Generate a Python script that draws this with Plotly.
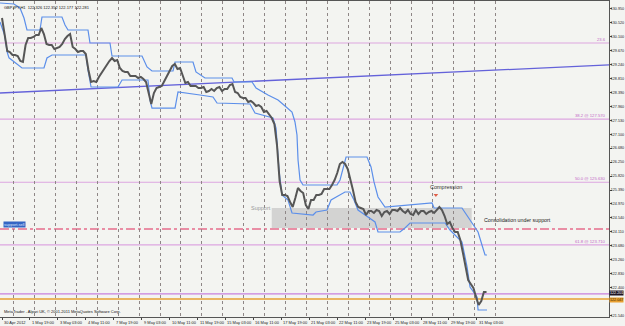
import plotly.graph_objects as go
import numpy as np

# ---------------- data ----------------
# H1 GBPJPY closes sampled every 3 bars starting 30 Apr 2012 11:00
price_close = [
    130.673, 130.213, 129.660, 129.630, 129.537, 129.537, 129.507, 129.353, 129.323, 129.844,
    130.059, 130.059, 130.090, 130.151, 130.151, 130.366, 130.182, 129.875, 129.844, 129.844,
    129.722, 129.752, 129.783, 129.875, 130.029, 130.121, 130.182, 129.783, 129.722, 129.630,
    129.660, 129.660, 129.568, 129.077, 128.709, 128.739, 128.709, 128.862, 128.985, 129.138,
    129.261, 129.353, 129.445, 129.353, 129.384, 129.138, 129.046, 129.016, 129.016, 128.893,
    128.893, 128.893, 128.831, 128.862, 128.801, 128.709, 128.371, 128.033, 128.371, 128.524,
    128.555, 128.586, 128.739, 128.893, 129.046, 129.200, 129.261, 129.108, 129.138, 128.893,
    128.678, 128.709, 128.586, 128.586, 128.586, 128.524, 128.524, 128.555, 128.402, 128.432,
    128.494, 128.432, 128.524, 128.555, 128.432, 128.494, 128.494, 128.616, 128.647, 128.402,
    128.371, 128.248, 128.217, 128.217, 128.095, 128.125, 128.064, 127.972, 128.002, 127.941,
    127.788, 127.818, 127.695, 127.603, 127.419, 126.774, 125.669, 125.239, 125.239, 125.209,
    125.025, 124.871, 125.147, 125.454, 125.362, 125.301, 124.932, 124.810, 125.086, 125.086,
    125.239, 125.239, 125.270, 125.424, 125.424, 125.424, 125.546, 125.700, 125.915, 126.191,
    126.253, 126.191, 126.038, 125.731, 125.393, 125.025, 124.871, 124.840, 124.810, 124.625,
    124.748, 124.748, 124.687, 124.779, 124.748, 124.595, 124.718, 124.748, 124.656, 124.779,
    124.779, 124.748, 124.840, 124.748, 124.687, 124.779, 124.656, 124.625, 124.779, 124.656,
    124.748, 124.748, 124.656, 124.718, 124.748, 124.687, 124.779, 124.871, 124.779, 124.595,
    124.349, 124.411, 124.226, 124.104, 124.104, 123.858, 123.459, 123.060, 122.630, 122.507,
    122.384, 122.108, 121.862, 121.985, 122.262, 122.262,
]
bars_per_sample = 3

# upper / lower channel (bar index, price)
upper_bar = [-2.3, 13.7, 20.6, 25.2, 28.6, 43.5, 45.8, 68.7, 72.2, 75.6, 98.5, 100.8, 123.7, 126.0,
             160.4, 166.1, 171.8, 195.9, 198.2, 218.8, 222.2, 229.1, 232.5, 263.5, 265.8, 286.4,
             291.0, 304.7, 316.2, 324.2, 332.2, 335.6, 337.9, 339.1, 341.4, 344.8, 383.7, 387.2,
             394.1, 418.1, 422.7, 426.1, 430.7, 438.7, 467.4, 492.6, 494.9, 526.9, 531.5, 538.4,
             545.3, 549.8, 553.3, 555.6]
upper_px = [131.134, 131.103, 130.980, 130.673, 130.305, 130.305, 130.704, 130.704, 130.459, 130.305,
            130.305, 129.906, 129.906, 129.507, 129.507, 129.169, 129.046, 129.046, 129.323, 129.323,
            129.016, 128.893, 128.831, 128.831, 128.709, 128.709, 128.524, 128.309, 128.156, 127.972,
            127.788, 127.481, 127.082, 126.314, 125.700, 125.546, 125.546, 125.700, 126.406, 126.406,
            126.099, 125.639, 125.178, 124.871, 124.932, 124.994, 124.840, 124.840, 124.656, 124.380,
            124.104, 123.705, 123.397, 123.397]
lower_bar = [-2.3, 3.0, 6.0, 8.0, 22.9, 48.1, 51.5, 57.3, 96.2, 98.5, 102.0, 132.9, 137.5, 167.2,
             169.5, 171.8, 198.2, 201.6, 226.8, 241.7, 246.3, 284.1, 289.8, 310.4, 313.9, 317.3,
             320.7, 327.6, 332.2, 356.3, 359.7, 372.3, 376.9, 392.9, 398.6, 403.2, 407.8, 417.0,
             427.3, 430.7, 455.9, 461.6, 467.4, 507.5, 513.2, 526.9, 532.7, 536.1, 544.1, 545.3, 555.6]
lower_px = [130.550, 130.150, 129.620, 129.450, 129.138, 129.138, 129.445, 129.537, 129.537, 129.077,
            128.555, 128.555, 128.770, 128.770, 128.156, 127.907, 127.907, 128.402, 128.310, 128.248,
            128.064, 128.033, 127.757, 127.603, 127.296, 126.007, 125.239, 125.086, 124.687, 124.625,
            124.718, 124.779, 125.086, 125.332, 125.332, 125.086, 124.779, 124.595, 124.411, 124.104,
            124.104, 124.226, 124.380, 124.380, 124.165, 123.797, 123.030, 122.416, 122.108, 121.709,
            121.709]

# trend line anchors (bar, price)
trend_bar = [0, 680]
trend_px = [128.374, 129.215]

# fibonacci levels
fib_levels = [129.906, 127.570, 125.630, 123.710]
fib_labels = ["23.6", "38.2 @ 127.570", "50.0 @ 125.630", "61.8 @ 123.710"]

sell_line = 124.196
violet_line = 122.201
orange_line = 122.047

support_low, support_high = 124.226, 124.840
support_start, support_end = 309, 538

# axes
x_label_bars = [0, 32, 64, 96, 128, 160, 192, 224, 256, 288, 320, 352, 384, 416, 448, 480, 512, 544]
x_labels = ["30 Apr 2012", "1 May 19:00", "3 May 03:00", "4 May 11:00", "7 May 19:00", "9 May 03:00",
            "10 May 11:00", "11 May 19:00", "15 May 03:00", "16 May 11:00", "17 May 19:00",
            "21 May 03:00", "22 May 11:00", "23 May 19:00", "25 May 03:00", "28 May 11:00",
            "29 May 19:00", "31 May 03:00"]
day_start_bars = [13 + 24 * k for k in range(24)]
# (121.970 is hidden behind the orange price box in the reference)
y_ticks = ["130.950", "130.520", "130.100", "129.670", "129.240", "128.810", "128.390", "127.960",
           "127.530", "127.100", "126.680", "126.250", "125.820", "125.390", "124.970", "124.540",
           "124.110", "123.680", "123.260", "122.830", "122.400", "121.540"]

X_RANGE = [-2.29, 695.3]
Y_RANGE = [121.494, 131.195]

# ---------------- figure ----------------
fig = go.Figure()
px_x = np.arange(len(price_close)) * bars_per_sample

# support zone
fig.add_shape(type="rect", x0=support_start, x1=support_end, y0=support_low, y1=support_high,
              xref="x", yref="y", fillcolor="#CDCDCD", opacity=0.85, line_width=0, layer="below")

# fib lines
for lv in fib_levels:
    fig.add_shape(type="line", xref="paper", x0=0, x1=1, yref="y", y0=lv, y1=lv,
                  line=dict(color="#DDA6E0", width=1.2), layer="below")
fig.add_shape(type="line", xref="paper", x0=0, x1=1, yref="y", y0=sell_line, y1=sell_line,
              line=dict(color="#E0285A", width=1.2, dash="dashdot"), layer="below")
fig.add_shape(type="line", xref="paper", x0=0, x1=1, yref="y", y0=violet_line, y1=violet_line,
              line=dict(color="#C880DC", width=1.3), layer="below")
fig.add_shape(type="line", xref="paper", x0=0, x1=1, yref="y", y0=orange_line, y1=orange_line,
              line=dict(color="#E9A030", width=1.6), layer="below")

# trend line across full chart
slope = (trend_px[1] - trend_px[0]) / (trend_bar[1] - trend_bar[0])
tx = np.array(X_RANGE)
ty = trend_px[0] + slope * (tx - trend_bar[0])
fig.add_trace(go.Scatter(x=tx, y=ty, mode="lines", line=dict(color="#6462DA", width=1.3),
                         hoverinfo="skip"))

# channel
fig.add_trace(go.Scatter(x=upper_bar, y=upper_px, mode="lines",
                         line=dict(color="#5C8FEA", width=1.2), hoverinfo="skip"))
fig.add_trace(go.Scatter(x=lower_bar, y=lower_px, mode="lines",
                         line=dict(color="#5C8FEA", width=1.2), hoverinfo="skip"))

# price
fig.add_trace(go.Scatter(x=px_x, y=price_close, mode="lines",
                         line=dict(color="#565656", width=2), hoverinfo="skip"))

# compression marker
fig.add_trace(go.Scatter(x=[497], y=[125.24], mode="markers",
                         marker=dict(symbol="triangle-down", size=4, color="#E0604A"),
                         hoverinfo="skip"))

FONT = "Liberation Sans"
ann = []
# x labels
for b, t in zip(x_label_bars, x_labels):
    ann.append(dict(x=b, y=0, xref="x", yref="paper", text=t, showarrow=False,
                    xanchor="left", yanchor="top", yshift=-1, xshift=0,
                    font=dict(family=FONT, size=4, color="#222")))
# fib labels
for lv, t in zip(fib_levels, fib_labels):
    ann.append(dict(x=1, y=lv, xref="paper", yref="y", text=t, showarrow=False,
                    xanchor="right", yanchor="bottom", xshift=-1, yshift=-1,
                    font=dict(family=FONT, size=4.2, color="#C46AC8")))
ann += [
    dict(x=0.004, y=1, xref="paper", yref="paper", yanchor="top", xanchor="left", yshift=-2,
         text="GBPJPY,H1  122.326 122.352 122.177 122.281", showarrow=False,
         font=dict(family=FONT, size=4, color="#111")),
    dict(x=0.004, y=0, xref="paper", yref="paper", yanchor="bottom", xanchor="left", yshift=1,
         text="MetaTrader - Alpari UK, © 2001-2011 MetaQuotes Software Corp.", showarrow=False,
         font=dict(family=FONT, size=4, color="#111")),
    dict(x=283, y=support_high, xref="x", yref="y", xanchor="left", yanchor="middle",
         text="Support", showarrow=False, font=dict(family=FONT, size=5.5, color="#9A9A9A")),
    dict(x=509, y=125.50, xref="x", yref="y", xanchor="center", yanchor="middle",
         text="Compression", showarrow=False, font=dict(family=FONT, size=5.5, color="#333")),
    dict(x=550, y=124.47, xref="x", yref="y", xanchor="left", yanchor="middle",
         text="Consolidation under support", showarrow=False,
         font=dict(family=FONT, size=5.3, color="#222")),
    dict(x=0.005, y=sell_line, xref="paper", yref="y", xanchor="left", yanchor="bottom", yshift=1,
         text="support.sell", showarrow=False, bgcolor="#3465C4",
         font=dict(family=FONT, size=4, color="#DDE6FF"), borderpad=0),
    dict(x=1, y=violet_line, xref="paper", yref="y", xanchor="left", yanchor="bottom", xshift=0,
         yshift=-2, text="122.201", showarrow=False, bgcolor="#1E1422", borderpad=0,
         font=dict(family=FONT, size=3.7, color="#FFFFFF")),
    dict(x=1, y=orange_line, xref="paper", yref="y", xanchor="left", yanchor="top", xshift=0,
         yshift=2, text="122.047", showarrow=False, bgcolor="#E9A030", borderpad=0,
         font=dict(family=FONT, size=3.7, color="#3A2A00")),
]

fig.update_layout(
    width=625, height=326,
    margin=dict(l=0, r=16, t=1, b=9),
    paper_bgcolor="#F3F4F1", plot_bgcolor="#F3F4F1",
    showlegend=False,
    annotations=ann,
    font=dict(family=FONT, size=4, color="#111"),
    xaxis=dict(range=X_RANGE, showgrid=False, zeroline=False, automargin=False,
               tickvals=x_label_bars, showticklabels=False, ticks="outside", ticklen=2,
               tickcolor="#444", showline=True, linecolor="#555", linewidth=1, mirror=True,
               minor=dict(tickvals=day_start_bars, showgrid=True, gridcolor="#8E8686",
                          griddash="dot", gridwidth=1, ticks="")),
    yaxis=dict(range=Y_RANGE, side="right", showgrid=False, zeroline=False, automargin=False,
               tickvals=[float(v) for v in y_ticks], ticktext=y_ticks, ticks="outside",
               ticklen=2, tickcolor="#444", ticklabelstandoff=-2,
               tickfont=dict(family=FONT, size=3.7, color="#222"),
               showline=True, linecolor="#555", linewidth=1, mirror=True),
)

fig.write_html("out.html")
